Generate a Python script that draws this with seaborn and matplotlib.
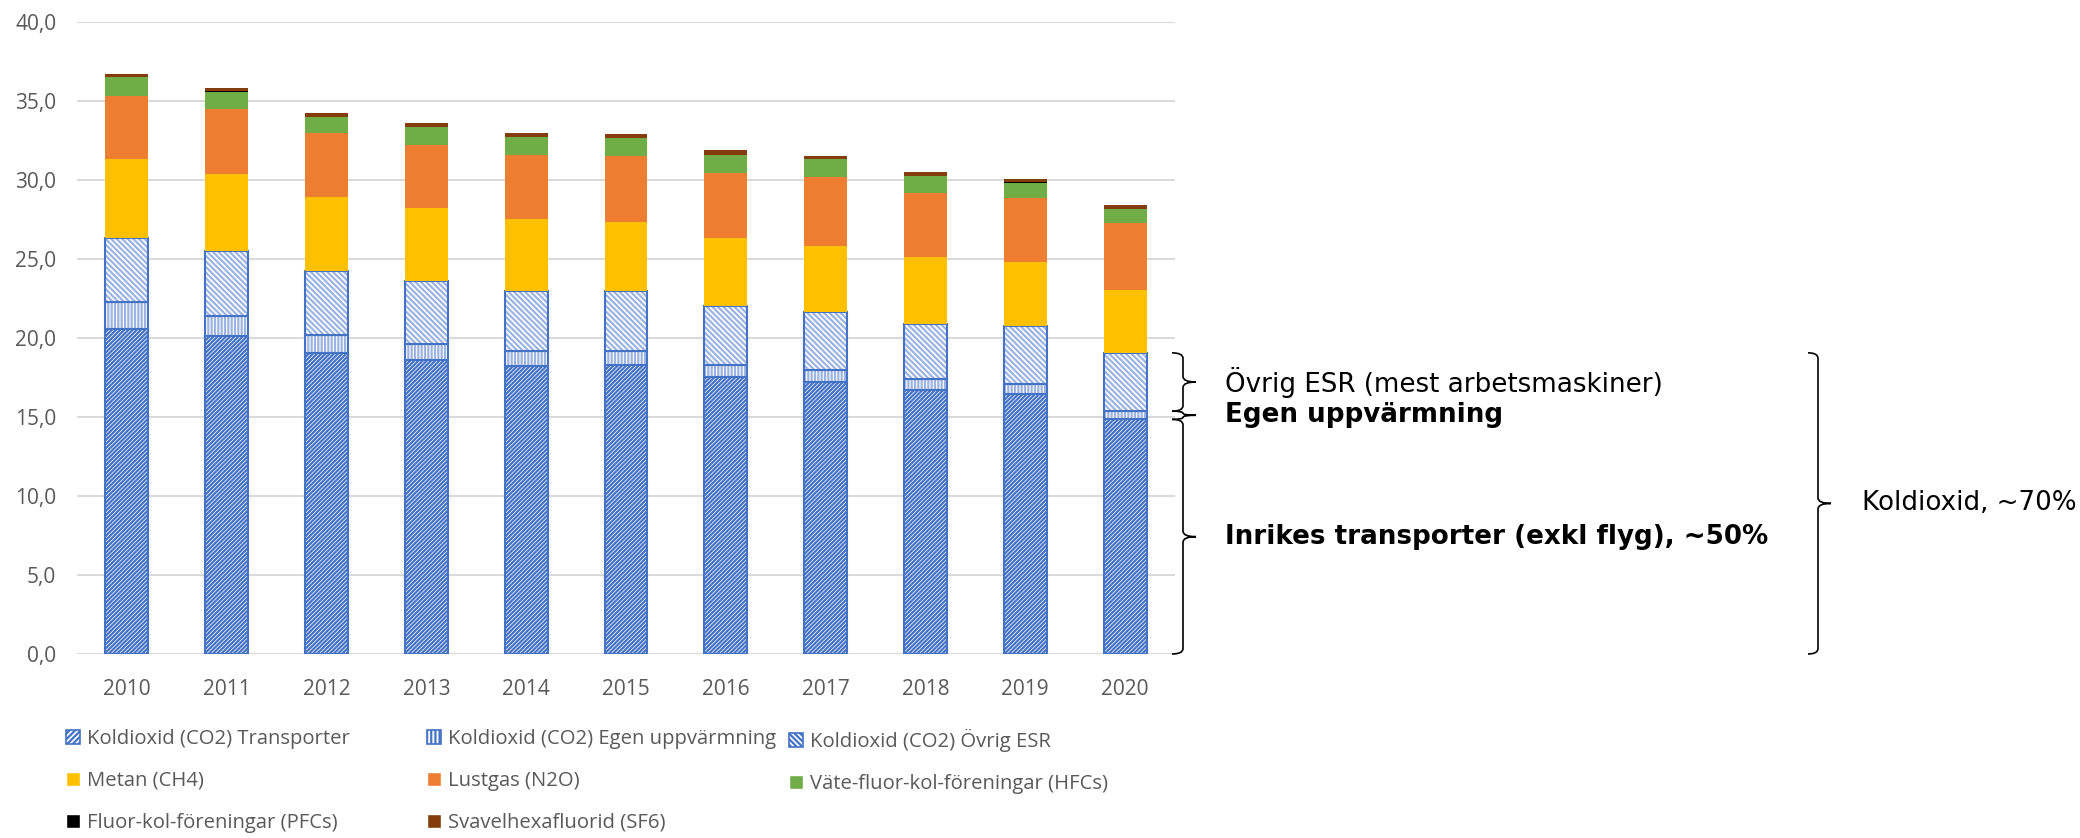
import numpy as np
import matplotlib
matplotlib.use("Agg")
import matplotlib.pyplot as plt
import matplotlib.transforms as mtransforms
from matplotlib.patches import Patch, PathPatch
from matplotlib.path import Path
from matplotlib.ticker import FuncFormatter, MultipleLocator
import seaborn as sns

### data (Mt CO2-ekv) ###
years = ['2010', '2011', '2012', '2013', '2014', '2015',
         '2016', '2017', '2018', '2019', '2020']
transport = [20.6, 20.15, 19.06, 18.58, 18.22, 18.28, 17.55, 17.2, 16.68, 16.47, 14.85]
egen = [1.65, 1.25, 1.16, 1.05, 0.94, 0.88, 0.77, 0.76, 0.70, 0.59, 0.52]
ovrig = [4.1, 4.1, 4.04, 4.0, 3.84, 3.84, 3.68, 3.67, 3.53, 3.68, 3.69]
metan = [5.0, 4.9, 4.69, 4.61, 4.53, 4.36, 4.33, 4.22, 4.22, 4.07, 3.98]
lustgas = [3.95, 4.1, 4.01, 4.0, 4.06, 4.17, 4.14, 4.31, 4.06, 4.08, 4.23]
hfc = [1.2, 1.1, 1.03, 1.12, 1.14, 1.11, 1.12, 1.14, 1.05, 0.95, 0.88]
pfc = [0.02, 0.02, 0.02, 0.02, 0.02, 0.02, 0.02, 0.02, 0.02, 0.02, 0.02]
sf6 = [0.2, 0.2, 0.23, 0.23, 0.23, 0.23, 0.27, 0.23, 0.23, 0.23, 0.23]

labels = [
    "Koldioxid (CO2) Transporter",
    "Koldioxid (CO2) Egen uppvärmning",
    "Koldioxid (CO2) Övrig ESR",
    "Metan (CH4)",
    "Lustgas (N2O)",
    "Väte-fluor-kol-föreningar (HFCs)",
    "Fluor-kol-föreningar (PFCs)",
    "Svavelhexafluorid (SF6)",
]

### style ###
sns.set_style("white")
plt.rcParams['font.family'] = ['Open Sans', 'DejaVu Sans']
plt.rcParams['hatch.linewidth'] = 1.6

blue = '#4472C4'
light_blue = '#9DB4E2'
c_metan = '#FFC000'
c_lust = '#ED7D31'
c_hfc = '#70AD47'
c_pfc = '#000000'
c_sf6 = '#843C0C'
grey_txt = '#595959'
bar_w = 0.43

fig = plt.figure(figsize=(20.8, 8.38), dpi=100)
ax = fig.add_axes([77/2080, 1 - 654/838, 1098/2080, 632/838])

bottom = np.zeros(len(years))

def stack(values, **kws):
    sns.barplot(x=years, y=values, bottom=bottom.copy(), width=bar_w,
                saturation=1, errorbar=None, ax=ax, **kws)

## CO2 parts, hatched
stack(transport, color='white', edgecolor=blue, linewidth=1.5, hatch='////////')
bottom += transport
stack(egen, color='white', edgecolor=light_blue, linewidth=0, hatch='|||||')
stack(egen, color=blue, fill=False, linewidth=1.5)
bottom += egen
stack(ovrig, color='white', edgecolor=light_blue, linewidth=0, hatch='\\\\\\\\\\\\')
stack(ovrig, color=blue, fill=False, linewidth=1.5)
bottom += ovrig
co2_top = bottom.copy()

## other gases, solid
for vals, col in [(metan, c_metan), (lustgas, c_lust), (hfc, c_hfc),
                  (pfc, c_pfc), (sf6, c_sf6)]:
    stack(vals, color=col, linewidth=0)
    bottom += vals

### axes ###
ax.set_xlim(-0.5, len(years) - 0.5)
ax.set_ylim(0, 40)
ax.yaxis.set_major_locator(MultipleLocator(5))
ax.yaxis.set_major_formatter(FuncFormatter(lambda v, p: f"{v:.1f}".replace('.', ',')))
ax.set_axisbelow(True)
ax.yaxis.grid(True, color='#D9D9D9', linewidth=1.4)
ax.xaxis.grid(False)
for side in ['top', 'bottom', 'left', 'right']:
    ax.spines[side].set_visible(False)
ax.tick_params(axis='y', length=0, pad=15, labelsize=15, labelcolor=grey_txt)
ax.tick_params(axis='x', length=0, pad=18, labelsize=15, labelcolor=grey_txt)
ax.set_xlabel('')
ax.set_ylabel('')

### legend: three columns of equal width ###
handles = [
    Patch(facecolor='white', edgecolor=blue, hatch='//////', linewidth=1.2),
    Patch(facecolor='white', edgecolor=blue, hatch='||||', linewidth=1.2),
    Patch(facecolor='white', edgecolor=blue, hatch='\\\\\\\\\\\\', linewidth=1.2),
    Patch(facecolor=c_metan),
    Patch(facecolor=c_lust),
    Patch(facecolor=c_hfc),
    Patch(facecolor=c_pfc),
    Patch(facecolor=c_sf6),
]
col_x = [66/2080, 427/2080, 789/2080]
columns = [[0, 3, 6], [1, 4, 7], [2, 5]]
for cx, idx in zip(col_x, columns):
    leg = fig.legend(
        [handles[i] for i in idx],
        [labels[i] for i in idx],
        loc='upper left',
        bbox_to_anchor=(cx, 1 - 729/838),
        frameon=False,
        fontsize=14.6,
        handlelength=0.68,
        handleheight=0.68,
        handletextpad=0.35,
        labelspacing=1.08,
        borderpad=0,
        borderaxespad=0,
        labelcolor=grey_txt,
    )

### braces with annotations on the right ###
trans = mtransforms.blended_transform_factory(fig.transFigure, ax.transData)

def brace(x_hook, x_line, x_tip, y_top, y_bot):
    r = min(0.35, (y_top - y_bot) / 4)
    ym = (y_top + y_bot) / 2
    verts = [(x_hook, y_top), (x_line, y_top), (x_line, y_top - r),
             (x_line, ym + r), (x_line, ym), (x_tip, ym),
             (x_line, ym), (x_line, ym - r),
             (x_line, y_bot + r), (x_line, y_bot), (x_hook, y_bot)]
    codes = [Path.MOVETO, Path.CURVE3, Path.CURVE3, Path.LINETO,
             Path.CURVE3, Path.CURVE3, Path.CURVE3, Path.CURVE3,
             Path.LINETO, Path.CURVE3, Path.CURVE3]
    ax.add_patch(PathPatch(Path(verts, codes), transform=trans, fill=False,
                           edgecolor='black', linewidth=1.2, clip_on=False))
    return ym

last = len(years) - 1
y_ovrig_top = co2_top[last]
y_egen_top = transport[last] + egen[last]
y_trans_top = transport[last]

sx = (1172/2080, 1183/2080, 1196/2080)
bx = (1808/2080, 1818/2080, 1831/2080)
tx = 1225/2080
txt_kw = dict(transform=trans, va='center', ha='left', fontsize=18.8,
              family='DejaVu Sans', color='black', clip_on=False)

ym = brace(*sx, y_ovrig_top, y_egen_top)
ax.text(tx, ym, "Övrig ESR (mest arbetsmaskiner)", **txt_kw)
ym = brace(*sx, y_egen_top, y_trans_top)
ax.text(tx, ym, "Egen uppvärmning", fontweight='bold', **txt_kw)
ym = brace(*sx, y_trans_top, 0)
ax.text(tx, ym, "Inrikes transporter (exkl flyg), ~50%", fontweight='bold', **txt_kw)
ym = brace(*bx, y_ovrig_top, 0)
ax.text(1862/2080, ym, "Koldioxid, ~70%", **txt_kw)

fig.savefig("out.png", dpi=100)
